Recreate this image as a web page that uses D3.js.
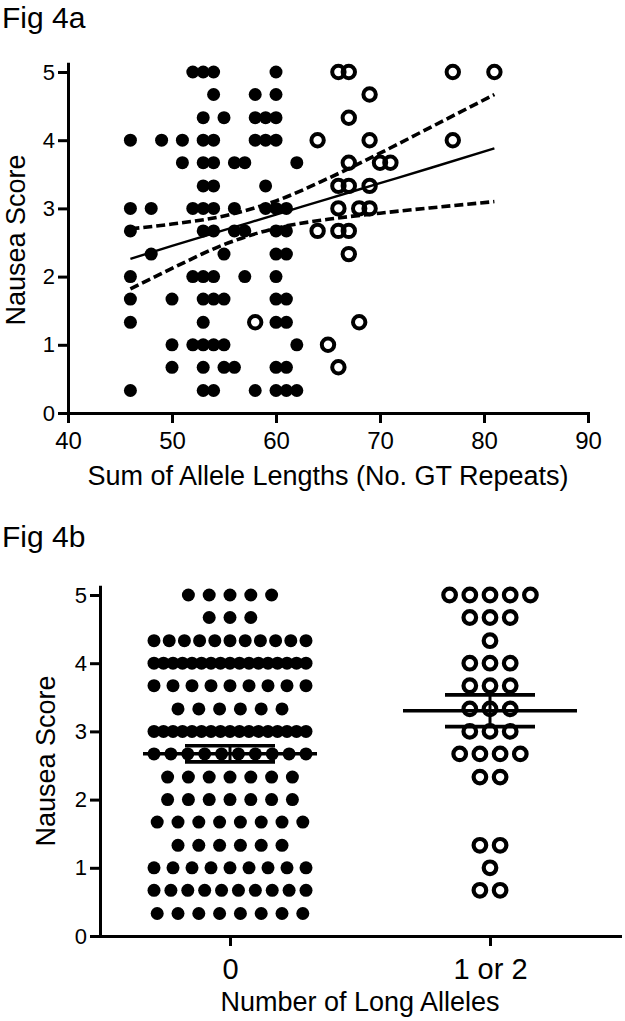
<!DOCTYPE html>
<html><head><meta charset="utf-8">
<script src="https://cdn.jsdelivr.net/npm/d3@7"></script>
<style>
body{margin:0;background:#fff}
svg{display:block}
text{font-family:"Liberation Sans",Arial,Helvetica,sans-serif;fill:#000}
</style>
</head><body><svg id="c" width="625" height="1021"></svg>
<script>
// ---------- data ----------
const scoreLevels = [5, 4.67, 4.33, 4, 3.67, 3.33, 3, 2.67, 2.33, 2, 1.67, 1.33, 1, 0.67, 0.33];
// Fig 4a: allele-length sums at each score level (filled = no long allele, open = long allele)
const shortSums = [
  [52,53,54,60],[54,58,60],[53,55,58,59,60],[46,49,51,53,54,58,59,60],
  [51,53,54,56,57,62],[53,54,59],[46,48,52,53,54,56,59,60,61],[46,53,54,56,57,60,61],
  [48,55,60,61],[46,52,53,54,57,60],[46,50,53,54,55,60,61],[46,53,60,61],
  [50,52,53,54,55,62],[50,53,55,56,60,61],[46,53,54,58,60,61,62]
];
const longSums = [
  [66,67,77,81],[69],[67],[64,69,77],[67,70,71],[66,67,69],[66,68,69],[64,66,67],
  [67],[],[],[58,68],[65],[66],[]
];
// regression line and 95% band
const fitX     = [46, 50, 55, 60, 65, 70, 75, 81];
const fitLine  = [2.26, 2.45, 2.68, 2.91, 3.14, 3.37, 3.60, 3.88];
const fitUpper = [2.70, 2.77, 2.89, 3.11, 3.44, 3.81, 4.20, 4.67];
const fitLower = [1.82, 2.12, 2.47, 2.71, 2.84, 2.93, 3.01, 3.10];
const xTicksA = [40, 50, 60, 70, 80, 90];
const yTicks = [0, 1, 2, 3, 4, 5];
// Fig 4b: number of subjects at each score level
const groups = ["0", "1 or 2"];
const countsNoLong = [5,3,11,17,9,6,17,10,7,7,8,6,9,10,8];
const countsLong   = [5,3,1,3,3,3,3,4,2,0,0,2,1,2,0];

// ---------- drawing ----------
const svg = d3.select("#c");
const BLK = "#000";
const fmt = d3.format("d");

function styleAxis(g, fs) {
  g.select(".domain").attr("stroke", BLK).attr("stroke-width", 3).attr("stroke-linecap", "square");
  g.selectAll(".tick line").attr("stroke", BLK).attr("stroke-width", 3);
  g.selectAll(".tick text").attr("font-size", fs).attr("fill", BLK)
    .style("font-family", '"Liberation Sans",Arial,sans-serif');
}

// ===== Fig 4a =====
svg.append("text").attr("x", 2).attr("y", 28).attr("font-size", 30).text("Fig 4a");

const xA = d3.scaleLinear().domain([40, 90]).range([68, 588]);
const yA = d3.scaleLinear().domain([0, 5.12]).range([413, 413 - 5.12 * 68.2]);

const gA = svg.append("g");
gA.append("g").attr("transform", "translate(0,413)")
  .call(d3.axisBottom(xA).tickValues(xTicksA).tickFormat(fmt).tickSize(10).tickSizeOuter(0).tickPadding(9))
  .call(g => styleAxis(g, 24));
gA.append("g").attr("transform", "translate(68,0)")
  .call(d3.axisLeft(yA).tickValues(yTicks).tickFormat(fmt).tickSize(10).tickSizeOuter(0).tickPadding(3))
  .call(g => styleAxis(g, 22));

const ptsShort = [], ptsLong = [];
scoreLevels.forEach((s, i) => {
  shortSums[i].forEach(v => ptsShort.push({x: v, y: s}));
  longSums[i].forEach(v => ptsLong.push({x: v, y: s}));
});
gA.append("g").selectAll("circle").data(ptsShort).join("circle")
  .attr("cx", d => xA(d.x)).attr("cy", d => yA(d.y)).attr("r", 6.5).attr("fill", BLK);
gA.append("g").selectAll("circle").data(ptsLong).join("circle")
  .attr("cx", d => xA(d.x)).attr("cy", d => yA(d.y)).attr("r", 6.2)
  .attr("fill", "none").attr("stroke", BLK).attr("stroke-width", 4);

const lineGen = arr => d3.line().curve(d3.curveMonotoneX)
  .x((d, i) => xA(fitX[i])).y(d => yA(d))(arr);
gA.append("path").attr("d", lineGen(fitUpper)).attr("fill", "none").attr("stroke", BLK)
  .attr("stroke-width", 3.6).attr("stroke-dasharray", "9,4");
gA.append("path").attr("d", lineGen(fitLower)).attr("fill", "none").attr("stroke", BLK)
  .attr("stroke-width", 3.6).attr("stroke-dasharray", "9,4");
gA.append("path").attr("d", lineGen(fitLine)).attr("fill", "none").attr("stroke", BLK)
  .attr("stroke-width", 2.4);

gA.append("text").attr("x", 328).attr("y", 485).attr("text-anchor", "middle")
  .attr("font-size", 27).text("Sum of Allele Lengths (No. GT Repeats)");
gA.append("text").attr("transform", "translate(25,240) rotate(-90)").attr("text-anchor", "middle")
  .attr("font-size", 27).text("Nausea Score");

// ===== Fig 4b =====
svg.append("text").attr("x", 2).attr("y", 547).attr("font-size", 30).text("Fig 4b");

const xB = d3.scalePoint().domain(groups).range([100, 620]).padding(0.5);
const yB = d3.scaleLinear().domain([0, 5.12]).range([936, 936 - 5.12 * 68.2]);

const gB = svg.append("g");
gB.append("g").attr("transform", "translate(0,936)")
  .call(d3.axisBottom(xB).tickSize(10).tickSizeOuter(0).tickPadding(12))
  .call(g => styleAxis(g, 29));
gB.append("g").attr("transform", "translate(100,0)")
  .call(d3.axisLeft(yB).tickValues(yTicks).tickFormat(fmt).tickSize(10).tickSizeOuter(0).tickPadding(3))
  .call(g => styleAxis(g, 22));

function swarm(counts, cat, maxStep) {
  const out = [];
  scoreLevels.forEach((s, i) => {
    const n = counts[i];
    const step = n > 1 ? Math.min(maxStep, 152 / (n - 1)) : 0;
    for (let j = 0; j < n; j++) out.push({cx: xB(cat) + (j - (n - 1) / 2) * step, y: s});
  });
  return out;
}
const swNo = swarm(countsNoLong, groups[0], 20.8);
const swLong = swarm(countsLong, groups[1], 20.2);

gB.append("g").selectAll("circle").data(swNo).join("circle")
  .attr("cx", d => d.cx).attr("cy", d => yB(d.y)).attr("r", 6.5).attr("fill", BLK);
gB.append("g").selectAll("circle").data(swLong).join("circle")
  .attr("cx", d => d.cx).attr("cy", d => yB(d.y)).attr("r", 6.3)
  .attr("fill", "none").attr("stroke", BLK).attr("stroke-width", 4.2);

// mean +/- SEM
[[swNo, groups[0]], [swLong, groups[1]]].forEach(([pts, cat]) => {
  const vals = pts.map(d => d.y);
  const m = d3.mean(vals);
  const se = d3.deviation(vals) / Math.sqrt(vals.length);
  const cx = xB(cat);
  const g = gB.append("g").attr("stroke", BLK).attr("stroke-width", 3.6);
  g.append("line").attr("x1", cx - 87).attr("x2", cx + 87).attr("y1", yB(m)).attr("y2", yB(m));
  g.append("line").attr("x1", cx - 45).attr("x2", cx + 45).attr("y1", yB(m + se)).attr("y2", yB(m + se));
  g.append("line").attr("x1", cx - 45).attr("x2", cx + 45).attr("y1", yB(m - se)).attr("y2", yB(m - se));
  g.append("line").attr("x1", cx).attr("x2", cx).attr("y1", yB(m + se)).attr("y2", yB(m - se)).attr("stroke-width", 3);
});

gB.append("text").attr("x", 360).attr("y", 1011).attr("text-anchor", "middle")
  .attr("font-size", 27).text("Number of Long Alleles");
gB.append("text").attr("transform", "translate(55,761) rotate(-90)").attr("text-anchor", "middle")
  .attr("font-size", 27).text("Nausea Score");
</script>
</body></html>
